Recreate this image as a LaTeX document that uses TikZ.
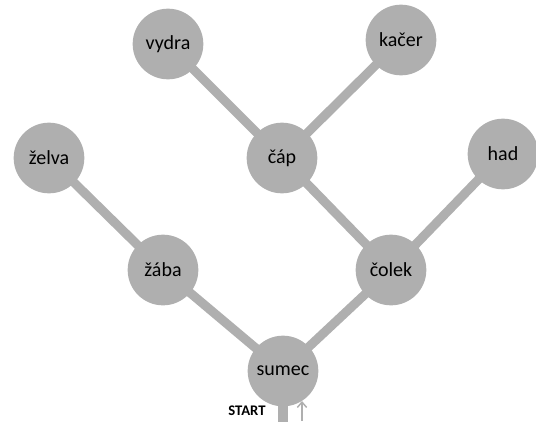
\documentclass[tikz,border=0pt]{standalone}
\usepackage{fontspec}
\setmainfont{Carlito}
\usepackage{xcolor}
\usetikzlibrary{arrows.meta, backgrounds}
\definecolor{treegray}{RGB}{175,175,175}

\begin{document}
\begin{tikzpicture}[
    x=0.75pt, y=-0.75pt,
    animal/.style={circle, fill=treegray, minimum size=53pt, inner sep=0pt, font=\fontsize{15}{18}\selectfont},
    link/.style={draw=treegray, line width=6.8pt},
    hint/.style={draw=treegray, line width=1.1pt, -{Straight Barb[length=4pt,width=7pt]}}
]
    \useasboundingbox (0,0) rectangle (536,422);
    \node[animal] (vydra) at (168,44) {vydra};
    \node[animal] (kacer) at (401,40) {kačer};
    \node[animal] (zelva) at (49,158) {želva};
    \node[animal] (cap) at (282,158) {čáp};
    \node[animal] (had) at (503,154) {had};
    \node[animal] (zaba) at (163,270) {žába};
    \node[animal] (colek) at (391,270) {čolek};
    \node[animal] (sumec) at (283,371) {sumec};
    \node[font=\bfseries\fontsize{11}{13}\selectfont] (start) at (247,411) {START};
    \coordinate (root) at (283,422);
    \coordinate (tail) at (302,421);
    \coordinate (tip) at (302,401);

    % Links
    \begin{scope}[on background layer]
    \draw[link] (sumec.center) -- (root);
    \draw[link] (sumec.center) -- (zaba.center);
    \draw[link] (sumec.center) -- (colek.center);
    \draw[link] (zaba.center) -- (zelva.center);
    \draw[link] (colek.center) -- (had.center);
    \draw[link] (colek.center) -- (cap.center);
    \draw[link] (cap.center) -- (vydra.center);
    \draw[link] (cap.center) -- (kacer.center);
    \end{scope}
    \draw[hint] (tail) -- (tip);
\end{tikzpicture}
\end{document}
